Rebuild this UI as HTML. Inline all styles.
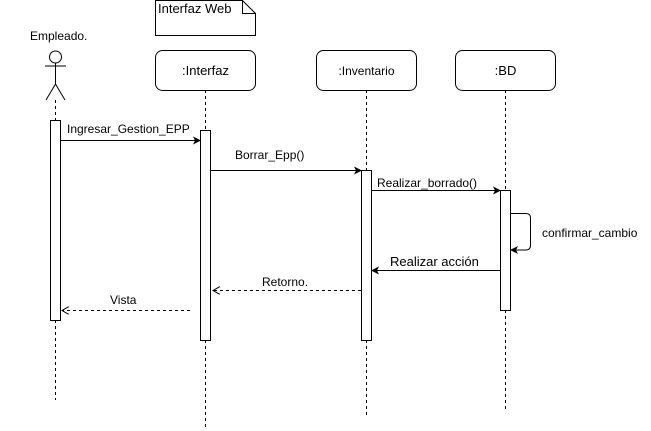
<!DOCTYPE html>
<html><head><meta charset="utf-8"><style>body{margin:0;background:#fff}svg{display:block}text{font-family:"Liberation Sans",sans-serif;font-size:12px;fill:#000}</style></head><body>
<svg width="651" height="431" viewBox="0 0 651 431" xmlns="http://www.w3.org/2000/svg">
<defs>
<marker id="f" markerWidth="8" markerHeight="8" refX="7" refY="4" orient="auto" markerUnits="userSpaceOnUse"><path d="M0,0 L8,4 L0,8 L2,4z" fill="#000"/></marker>
<marker id="o" markerWidth="8" markerHeight="8" refX="7" refY="4" orient="auto" markerUnits="userSpaceOnUse"><path d="M0,0 L7,4 L0,8" fill="none" stroke="#000"/></marker>
</defs>
<g stroke="#000" fill="none">
<path d="M155.5,0.5 H242.5 L255.5,13.5 V35.5 H155.5 Z M242.5,0.5 V13.5 H255.5" fill="#fff"/>
<circle cx="55.5" cy="57" r="6"/>
<path d="M55.5,63 V84 M45,66 H66 M55.5,84 L46,100 M55.5,84 L65,100"/>
<g stroke-dasharray="3,3">
<path d="M55.5,100 V120 M55.5,320 V400"/>
<path d="M205.5,90 V130 M205.5,340 V430"/>
<path d="M366.5,90 V170 M366.5,340 V418"/>
<path d="M505.5,90 V190 M505.5,310 V410"/>
</g>
<rect x="155.5" y="50.5" width="100" height="40" rx="7" fill="#fff"/>
<rect x="316.5" y="50.5" width="100" height="40" rx="7" fill="#fff"/>
<rect x="455.5" y="50.5" width="100" height="40" rx="7" fill="#fff"/>
<rect x="50.5" y="120.5" width="10" height="200" fill="#fff"/>
<rect x="200.5" y="130.5" width="10" height="210" fill="#fff"/>
<rect x="361.5" y="170.5" width="10" height="170" fill="#fff"/>
<rect x="500.5" y="190.5" width="10" height="120" fill="#fff"/>
<path d="M60.5,140.5 H200" marker-end="url(#f)"/>
<path d="M210.5,170.5 H361" marker-end="url(#f)"/>
<path d="M371.5,190.5 H500" marker-end="url(#f)"/>
<path d="M510.5,213.5 H526 Q530.5,213.5 530.5,218 V245 Q530.5,250 526,250 H511" marker-end="url(#f)"/>
<path d="M500.5,270.5 H372" marker-end="url(#f)"/>
<path d="M361,290.5 H213" stroke-dasharray="3,3" marker-end="url(#o)"/>
<path d="M190,310.5 H62" stroke-dasharray="3,3" marker-end="url(#o)"/>
</g>
<text x="158" y="13" style="font-size:13px">Interfaz Web</text>
<text x="30" y="40">Empleado.</text>
<text x="205.5" y="75" text-anchor="middle" style="font-size:13px">:Interfaz</text>
<text x="366.5" y="75" text-anchor="middle">:Inventario</text>
<text x="505.5" y="75" text-anchor="middle" style="font-size:13px">:BD</text>
<text x="67" y="133">Ingresar_Gestion_EPP</text>
<text x="235" y="159">Borrar_Epp()</text>
<text x="377" y="187">Realizar_borrado()</text>
<text x="542" y="237">confirmar_cambio</text>
<text x="390" y="266" style="font-size:13px">Realizar acción</text>
<text x="262" y="286">Retorno.</text>
<text x="110" y="304">Vista</text>
</svg>
</body></html>
